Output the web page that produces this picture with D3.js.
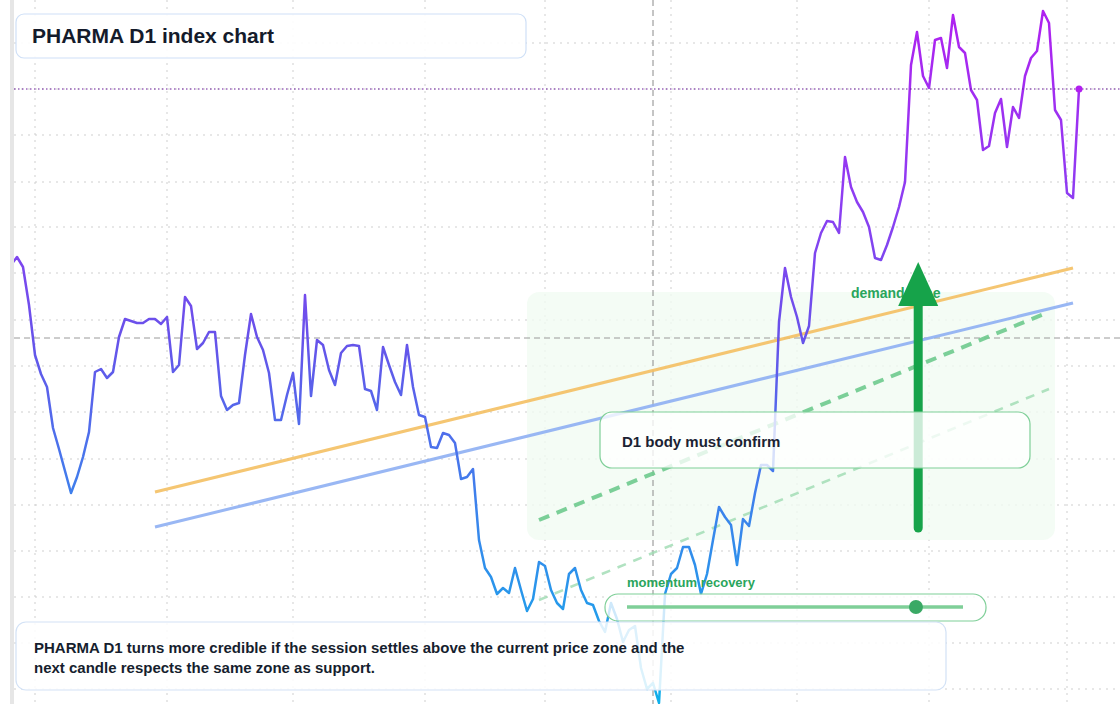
<!DOCTYPE html>
<html><head><meta charset="utf-8">
<script src="https://cdn.jsdelivr.net/npm/d3@7"></script>
<style>body{margin:0;background:#fff;font-family:"Liberation Sans",Arial,sans-serif}</style>
</head><body><svg id="c" width="1120" height="704"></svg>
<script>
// Index level per daily session
const closes = [535,543,533,495,445,426,413,372,351,329,307,323,343,368,428,431,422,428,463,481,479,477,477,481,481,476,483,428,435,503,494,451,457,468,468,404,390,395,397,445,486,463,450,427,380,380,405,427,376,505,404,460,455,430,415,447,454,455,454,411,409,390,453,435,418,405,455,413,385,383,353,352,367,365,357,321,323,331,260,232,223,206,212,207,232,210,189,201,238,234,210,197,191,226,232,210,197,195,179,168,197,181,158,170,174,132,111,117,97,206,226,232,253,253,235,206,226,260,293,283,275,235,281,274,307,335,335,329,478,532,503,483,457,474,547,567,579,578,567,643,613,598,588,573,542,540,555,573,593,618,735,768,724,712,760,762,732,785,753,747,710,700,650,654,687,701,653,693,682,724,742,749,789,777,690,680,607,602,711];
const lastClose = closes[closes.length-1];
const refLevel = 462;
const gridXIdx = [4,26,47,69,89,110,131,153,176];
const gridLevels = [757,711,665,618,573,527,480,434,388,341,295,249,203,157,111];
const title = "PHARMA D1 index chart";
const noteLines = ["PHARMA D1 turns more credible if the session settles above the current price zone and the","next candle respects the same zone as support."];
const confirmLabel = "D1 body must confirm";
const zoneLabel = "demand zone";
const momentumLabel = "momentum recovery";
const momentumValue = 0.86;
// trend lines [startIdx, startLevel, endIdx, endLevel]
const resistLine = [24,308,177,532];
const supportLine = [24,273,177,497];
const greenDash = [88,280,173,488];
const greenDashLight = [88,200,173,411];
// zone [startIdx, endIdx, lowLevel, highLevel]
const zone = [86,174,260,508];
// arrow [idx, fromLevel, toLevel]
const arrow = [151.2,272,538];

const W=1120,H=704;
const svg=d3.select("#c");
const x=d3.scaleLinear().domain([0,closes.length-1]).range([11,1079]);
const y=d3.scaleLinear().domain([96,800]).range([704,0]);

const defs=svg.append("defs");
const g=defs.append("linearGradient").attr("id","lg").attr("gradientUnits","userSpaceOnUse")
 .attr("x1",0).attr("x2",0).attr("y1",0).attr("y2",704);
[[0,"#b21ff0"],[0.3,"#8b3ff2"],[0.48,"#6752ea"],[0.7,"#3f7fec"],[1,"#10b0ea"]].forEach(s=>g.append("stop").attr("offset",s[0]).attr("stop-color",s[1]));
defs.append("clipPath").attr("id","cp").append("rect").attr("x",14).attr("y",0).attr("width",W-14).attr("height",H);

// grid
const grid=svg.append("g").attr("stroke","#cfcfcf").attr("stroke-dasharray","2,5").attr("stroke-width",1);
gridXIdx.forEach(i=>grid.append("line").attr("x1",x(i)).attr("x2",x(i)).attr("y1",0).attr("y2",H));
gridLevels.forEach(v=>grid.append("line").attr("x1",14).attr("x2",W).attr("y1",y(v)).attr("y2",y(v)));
svg.append("rect").attr("x",10).attr("y",0).attr("width",4).attr("height",H).attr("fill","#e6e6e6");

// zone
svg.append("rect").attr("x",x(zone[0])).attr("y",y(zone[3])).attr("width",x(zone[1])-x(zone[0])).attr("height",y(zone[2])-y(zone[3])).attr("rx",12).attr("fill","#f1fbf3").attr("opacity",0.8);

// crosshair
svg.append("line").attr("x1",14).attr("x2",W).attr("y1",y(refLevel)).attr("y2",y(refLevel)).attr("stroke","#9a9a9a").attr("stroke-dasharray","6,4");
svg.append("line").attr("x1",x(107)).attr("x2",x(107)).attr("y1",0).attr("y2",H).attr("stroke","#8a8a8a").attr("stroke-dasharray","6,4");

function tl(a,col,w,dash,op){const l=svg.append("line").attr("x1",x(a[0])).attr("y1",y(a[1])).attr("x2",x(a[2])).attr("y2",y(a[3])).attr("stroke",col).attr("stroke-width",w).attr("opacity",op);if(dash)l.attr("stroke-dasharray",dash);}
tl(greenDashLight,"#9edcb2",2.5,"9,8",0.8);
tl(greenDash,"#6fcb8e",4,"11,8",0.9);
tl(resistLine,"#f5c063",3,null,0.9);
tl(supportLine,"#8fb0f3",3,null,0.9);

// price line
svg.append("path").datum(closes).attr("clip-path","url(#cp)")
 .attr("d",d3.line().x((d,i)=>x(i)).y(d=>y(d)))
 .attr("fill","none").attr("stroke","url(#lg)").attr("stroke-width",2.5).attr("stroke-linejoin","round");
svg.append("line").attr("x1",14).attr("x2",W).attr("y1",y(lastClose)).attr("y2",y(lastClose)).attr("stroke","#6a1a9a").attr("stroke-dasharray","1.5,2.5").attr("stroke-width",1.2);
svg.append("circle").attr("cx",x(closes.length-1)).attr("cy",y(lastClose)).attr("r",3.5).attr("fill","#b21ff0");

// demand zone label + arrow
svg.append("text").attr("x",851).attr("y",298).text(zoneLabel).attr("fill","#2aa55c").attr("font-weight","bold").attr("font-size",14);
const ax=x(arrow[0]);
svg.append("line").attr("x1",ax).attr("x2",ax).attr("y1",y(arrow[1])).attr("y2",y(arrow[2])+30).attr("stroke","#16a34a").attr("stroke-width",9).attr("stroke-linecap","round");
svg.append("path").attr("d",`M${ax-20},${y(arrow[2])+44}L${ax+20},${y(arrow[2])+44}L${ax},${y(arrow[2])}Z`).attr("fill","#16a34a");

// confirm box
svg.append("rect").attr("x",600).attr("y",412).attr("width",430).attr("height",56).attr("rx",12).attr("fill","#fff").attr("fill-opacity",0.78).attr("stroke","#7fcf98").attr("stroke-width",1.2);
svg.append("text").attr("x",622).attr("y",447).text(confirmLabel).attr("fill","#1b2333").attr("font-weight","bold").attr("font-size",15);

// momentum
svg.append("text").attr("x",627).attr("y",587).text(momentumLabel).attr("fill","#2aa55c").attr("font-weight","bold").attr("font-size",13);
svg.append("rect").attr("x",605).attr("y",594).attr("width",381).attr("height",27).attr("rx",13).attr("fill","#fff").attr("fill-opacity",0.78).attr("stroke","#7fcf98").attr("stroke-width",1.2);
const mx=d3.scaleLinear().domain([0,1]).range([627,963]);
svg.append("line").attr("x1",mx(0)).attr("x2",mx(1)).attr("y1",607).attr("y2",607).attr("stroke","#7fcf98").attr("stroke-width",3.5);
svg.append("circle").attr("cx",mx(momentumValue)).attr("cy",607).attr("r",7).attr("fill","#3aa965");

// note box
svg.append("rect").attr("x",16).attr("y",622).attr("width",930).attr("height",68).attr("rx",10).attr("fill","#fff").attr("fill-opacity",0.85).attr("stroke","#d3e2f6").attr("stroke-width",1.2);
noteLines.forEach((t,i)=>svg.append("text").attr("x",34).attr("y",653+i*20).text(t).attr("fill","#161e2e").attr("font-weight","bold").attr("font-size",15));

// title
svg.append("rect").attr("x",16).attr("y",14).attr("width",510).attr("height",44).attr("rx",8).attr("fill","#fff").attr("fill-opacity",0.9).attr("stroke","#cfe0f7").attr("stroke-width",1.2);
svg.append("text").attr("x",32).attr("y",43).text(title).attr("fill","#141b2b").attr("font-weight","bold").attr("font-size",21);
</script></body></html>
